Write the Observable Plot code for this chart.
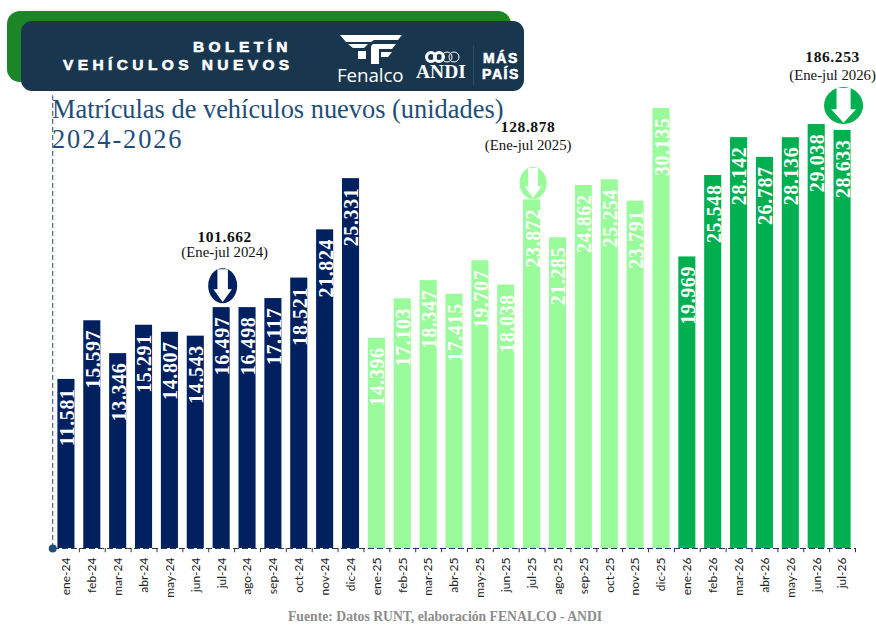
<!DOCTYPE html>
<html lang="es">
<head>
<meta charset="utf-8">
<script src="https://cdn.jsdelivr.net/npm/d3@7"></script>
<script src="https://cdn.jsdelivr.net/npm/@observablehq/plot@0.6"></script>
<style>
html,body{margin:0;padding:0;background:#fff;width:876px;height:635px;overflow:hidden}
#wrap{position:relative;width:876px;height:635px}
#chart{position:absolute;left:0;top:0}
.ov{position:absolute;white-space:nowrap}
#bannerGreen{left:7px;top:11px;width:504px;height:71px;background:#1c8527;border-radius:13px}
#banner{left:21px;top:21px;width:503px;height:70px;background:#19364f;border-radius:11px}
.bt{color:#fff;font-family:"Liberation Sans",sans-serif;font-weight:700;font-size:15.5px;line-height:17.8px;-webkit-text-stroke:.6px #fff}
#title{left:52px;top:94px;font-family:"Liberation Serif",serif;font-size:26.4px;line-height:30px;color:#1f4e79;white-space:pre}
#source{left:288px;top:609px;font-family:"Liberation Serif",serif;font-size:13.7px;font-weight:bold;color:#8c8c8c}
.val text{letter-spacing:.6px}
.tot text{letter-spacing:.6px}
</style>
</head>
<body>
<div id="wrap">
  <div id="chart"></div>
  <div class="ov" id="bannerGreen"></div>
  <div class="ov" id="banner"></div>
  <div class="ov bt" style="left:193px;top:38px;letter-spacing:4.4px">BOLETÍN</div>
  <div class="ov bt" style="left:63px;top:56px;letter-spacing:4.4px">VEHÍCULOS NUEVOS</div>
  <svg class="ov" style="left:338px;top:33px" width="66" height="34" viewBox="0 0 66 34">
    <path d="M2 2 H64 L60 7 H36 L33 9 H8 Z" fill="#fff"/>
    <path d="M10 11 H30 L26 15 H15 Z M36 11 H58 L54 16 H41 V31 H33 V15 Q33 11 36 11Z" fill="#fff"/>
    <path d="M20 18 H28 V26 H20 Z M43 19 H54 L50 24 H43 Z" fill="#fff"/>
  </svg>
  <div class="ov" style="left:337px;top:62px;color:#fff;font-family:'Open Sans',sans-serif;font-size:18.8px;letter-spacing:-.1px">Fenalco</div>
  <svg class="ov" style="left:425px;top:49px" width="36" height="16" viewBox="0 0 36 16">
    <circle cx="6" cy="8" r="4.5" fill="none" stroke="#fff" stroke-width="3"/>
    <circle cx="14" cy="8" r="4.5" fill="none" stroke="#fff" stroke-width="3"/>
    <circle cx="22" cy="8" r="5" fill="none" stroke="#fff" stroke-width="1"/>
    <circle cx="29" cy="8" r="5" fill="none" stroke="#fff" stroke-width="1"/>
  </svg>
  <div class="ov" style="left:416px;top:61px;color:#fff;font-family:'Liberation Serif',serif;font-weight:bold;font-size:19.5px">ANDI</div>
  <div class="ov" style="left:473px;top:45px;width:1px;height:40px;background:#2f4c66"></div>
  <div class="ov" style="left:482px;top:50px;color:#fff;font-family:'Liberation Sans',sans-serif;font-weight:700;font-size:14px;letter-spacing:1.6px;line-height:16.2px;text-align:center;-webkit-text-stroke:.6px #fff">MÁS<br>PAÍS</div>
  <div class="ov" id="title">Matrículas de vehículos nuevos (unidades)
<span style="letter-spacing:1.9px">2024-2026</span></div>
  <div class="ov" id="source">Fuente: Datos RUNT, elaboración FENALCO - ANDI</div>
</div>
<script>
const months = ["ene-24","feb-24","mar-24","abr-24","may-24","jun-24","jul-24","ago-24","sep-24","oct-24","nov-24","dic-24",
  "ene-25","feb-25","mar-25","abr-25","may-25","jun-25","jul-25","ago-25","sep-25","oct-25","nov-25","dic-25",
  "ene-26","feb-26","mar-26","abr-26","may-26","jun-26","jul-26"];
const values2024 = [11581,15597,13346,15291,14807,14543,16497,16498,17117,18521,21824,25331];
const values2025 = [14396,17103,18347,17415,19707,18038,23872,21285,24862,25254,23791,30135];
const values2026 = [19969,25548,28142,26787,28136,29038,28633];
const periods = ["2024","2025","2026"];
const periodColors = ["#002060","#99fb99","#00b050"];
const totals = [101662,128878,186253];
const totalLabels = ["(Ene-jul 2024)","(Ene-jul 2025)","(Ene-jul 2026)"];
const totalMonths = ["jul-24","jul-25","jul-26"];

const allValues = [...values2024,...values2025,...values2026];
const rows = months.map((month,i)=>({month,value:allValues[i],period:"20"+month.slice(-2)}));
const fmt = d3.formatLocale({decimal:",",thousands:".",grouping:[3],currency:["",""]}).format(",");
const valueOf = m => rows.find(r=>r.month===m).value;
const serif = "Liberation Serif, serif";

// Badge shapes: a filled ellipse and the white down-arrow cut out of it
const ellipse = (w,h)=>({draw(c){const a=w/2,b=h/2,k=.5523;
  c.moveTo(-a,0);c.bezierCurveTo(-a,-k*b,-k*a,-b,0,-b);c.bezierCurveTo(k*a,-b,a,-k*b,a,0);
  c.bezierCurveTo(a,k*b,k*a,b,0,b);c.bezierCurveTo(-k*a,b,-a,k*b,-a,0);c.closePath();}});
const arrow = (w,h)=>({draw(c){const a=w/2,b=h/2,s=a*.42,q=a*.74;
  c.moveTo(-s,-b);c.lineTo(s,-b);c.lineTo(s,b*.22);c.lineTo(q,b*.22);c.lineTo(0,b);c.lineTo(-q,b*.22);c.lineTo(-s,b*.22);c.closePath();}});

const badgeSizes = [[29,35],[27,32],[39,37]];
const step = 802/31;
const marks = [
  Plot.barY(rows,{x:"month",y:"value",fill:"period"}),
  Plot.text(rows,{x:"month",y:"value",text:d=>fmt(d.value),rotate:-90,textAnchor:"end",dy:9,dx:1,className:"val",
    fill:"#fff",fontFamily:serif,fontWeight:"bold",fontSize:20}),
  Plot.ruleY([0],{stroke:"#1f3a5f",strokeDasharray:"6,3",strokeWidth:1}),
  Plot.ruleX(months,{x:d=>d,dx:step/2,y1:-290,y2:0,stroke:"#333",strokeWidth:1}),
  Plot.ruleX(["ene-24"],{x:d=>d,dx:-13.7,y1:0,y2:31000,stroke:"#1f4e79",strokeDasharray:"5,3",strokeWidth:1}),
  Plot.dot(["ene-24"],{x:d=>d,y:()=>0,dx:-13.7,r:4,fill:"#1f4e79"}),
  Plot.axisX({tickSize:0,tickRotate:-90,tickPadding:9,fontSize:12,fontFamily:"Lato, sans-serif",label:null,color:"#222"})
];
const offs = [
  {tx:3,ty1:-71,ty2:-55,by:-22},
  {tx:-4,ty1:-73,ty2:-55,by:-17},
  {tx:-10,ty1:-73,ty2:-55,by:-25}
];
totalMonths.forEach((m,i)=>{
  const v=valueOf(m), o=offs[i], p=badgeSizes[i];
  marks.push(
    Plot.text([m],{x:d=>d,y:()=>v,dx:o.tx,dy:o.ty1,text:()=>fmt(totals[i]),className:"tot",fontFamily:serif,fontWeight:"bold",fontSize:15.5,fill:"#111"}),
    Plot.text([m],{x:d=>d,y:()=>v,dx:o.tx,dy:o.ty2,text:()=>totalLabels[i],fontFamily:serif,fontSize:14.8,fill:"#111"}),
    Plot.dot([m],{x:d=>d,y:()=>v,dy:o.by,dx:1,symbol:ellipse(p[0],p[1]),r:5,fill:periodColors[i],stroke:"none"}),
    Plot.dot([m],{x:d=>d,y:()=>v,dy:o.by,dx:1,symbol:arrow(p[0]*.86,p[1]*.94),r:5,fill:"#fff",stroke:"none"})
  );
});
const plot = Plot.plot({
  width:876,height:635,marginTop:0,marginBottom:87,marginLeft:53,marginRight:21,
  style:{background:"transparent",overflow:"visible"},
  x:{type:"band",domain:months,paddingInner:.34,paddingOuter:.17,round:false,axis:null},
  y:{domain:[0,37532],axis:null},
  color:{domain:periods,range:periodColors},
  marks
});
document.getElementById("chart").appendChild(plot);
</script>
</body>
</html>
